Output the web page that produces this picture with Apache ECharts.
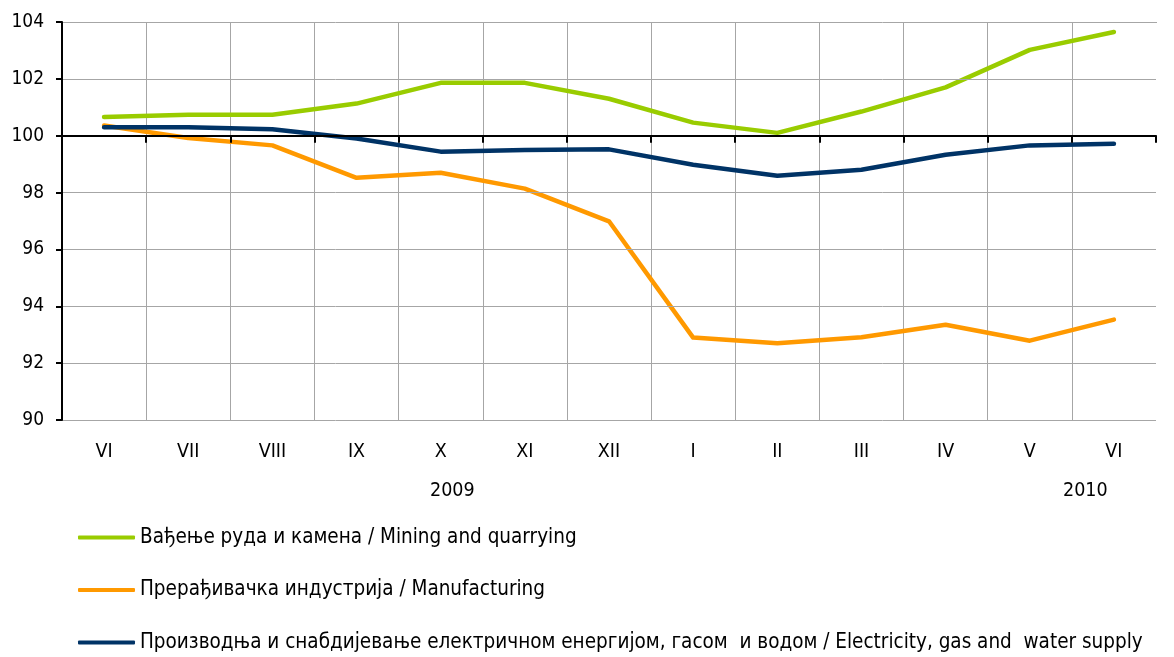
<!DOCTYPE html>
<html><head><meta charset="utf-8">
<script src="https://cdn.jsdelivr.net/npm/echarts@6/dist/echarts.min.js"></script>
<style>html,body{margin:0;padding:0;background:#fff}#c{width:1174px;height:657px}</style>
</head><body><div id="c"></div>
<script>
const categories = ['VI','VII','VIII','IX','X','XI','XII','I','II','III','IV','V','VI'];
const mining = [100.66,100.74,100.74,101.13,101.86,101.86,101.3,100.46,100.1,100.85,101.7,103.02,103.65];
const manufacturing = [100.36,99.92,99.66,98.52,98.7,98.14,96.99,92.9,92.7,92.91,93.35,92.79,93.53];
const electricity = [100.3,100.3,100.23,99.9,99.44,99.5,99.52,98.98,98.59,98.8,99.33,99.66,99.72];
const seriesNames = ['Вађење руда и камена / Mining and quarrying','Прерађивачка индустрија / Manufacturing','Производња и снабдијевање електричном енергијом, гасом  и водом / Electricity, gas and  water supply'];
const yearLabels = ['2009','2010'];
const yMin = 90, yMax = 104, yStep = 2, crossAt = 100;

const FONT = '"DejaVu Sans Condensed", "Liberation Sans Narrow", sans-serif';
const W = 1174, H = 657, gridLeft = 62, gridRight = 18, gridTop = 22, gridBottomPx = 237;
const gridH = H - gridTop - gridBottomPx;
const crossOffset = -gridH * (crossAt - yMin) / (yMax - yMin);

const chart = echarts.init(document.getElementById('c'));
function line(name, data, color){
  return {name, type:'line', data, symbol:'none', smooth:false,
    lineStyle:{color, width:4.5, cap:'round', join:'round'}, itemStyle:{color}, z:3};
}
chart.setOption({
  animation:false,
  textStyle:{fontFamily:FONT},
  grid:{left:gridLeft, top:gridTop, right:gridRight, bottom:gridBottomPx, containLabel:false},
  xAxis:[{
    type:'category', data:categories, boundaryGap:true, position:'bottom', z:0,
    axisLine:{show:false}, axisTick:{show:false},
    axisLabel:{color:'#000', fontSize:19.5, fontFamily:FONT, margin:22, interval:0},
    splitLine:{show:true, interval:0, lineStyle:{color:'#a6a6a6', width:1}}
  },{
    type:'category', data:categories, boundaryGap:true, position:'bottom', offset:crossOffset, z:5,
    axisLine:{show:true, lineStyle:{color:'#000', width:2}},
    axisTick:{show:true, length:7, interval:0, lineStyle:{color:'#000', width:2}},
    axisLabel:{show:false}, splitLine:{show:false}
  }],
  yAxis:{
    type:'value', min:yMin, max:yMax, interval:yStep, z:5,
    axisLine:{show:true, lineStyle:{color:'#000', width:2}},
    axisTick:{show:true, length:6, lineStyle:{color:'#000', width:2}},
    axisLabel:{color:'#000', fontSize:19, fontFamily:FONT, margin:18},
    splitLine:{show:true, lineStyle:{color:'#a6a6a6', width:1}}
  },
  legend:{
    orient:'vertical', left:78, top:527, padding:0, itemWidth:57, itemHeight:4, itemGap:31.5,
    icon:'roundRect',
    textStyle:{color:'#000', fontSize:20.5, fontFamily:FONT},
    data:seriesNames
  },
  graphic:[
    {type:'rect', z:1, shape:{x:W-gridRight-1, y:gridTop+1, width:3, height:gridH}, style:{fill:'#fff'}},
    {type:'text', left:430, top:481, style:{text:yearLabels[0], fill:'#000', font:'19.5px '+FONT}},
    {type:'text', left:1063, top:481, style:{text:yearLabels[1], fill:'#000', font:'19.5px '+FONT}}
  ],
  series:[
    line(seriesNames[0], mining, '#99cc00'),
    line(seriesNames[1], manufacturing, '#ff9900'),
    line(seriesNames[2], electricity, '#003366')
  ]
});
</script></body></html>
